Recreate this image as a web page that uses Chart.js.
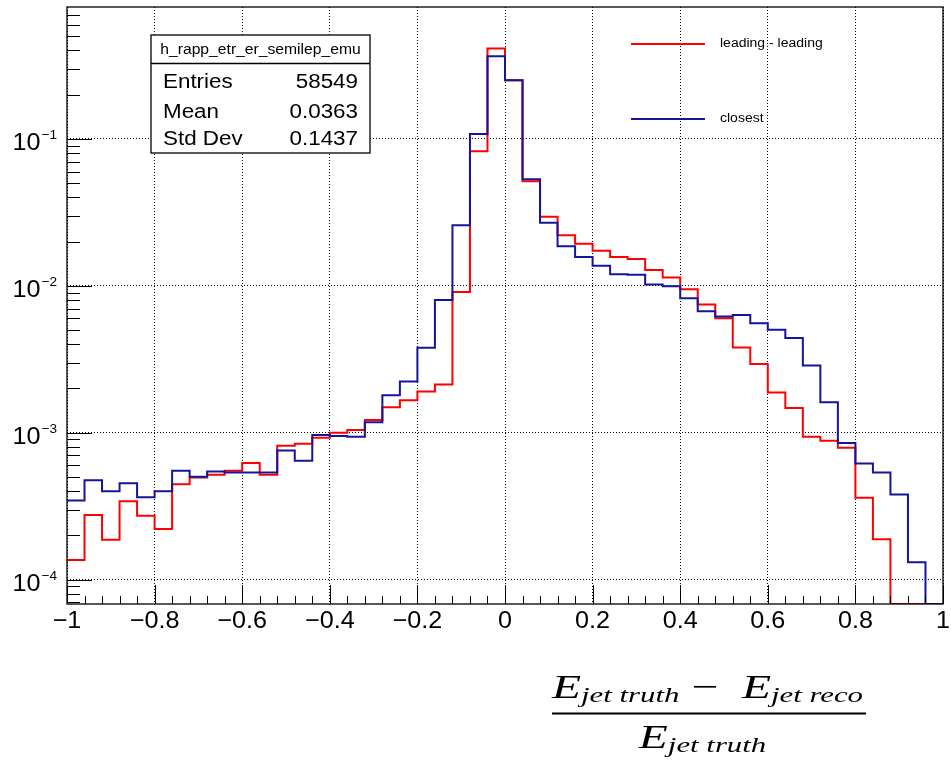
<!DOCTYPE html>
<html>
<head>
<meta charset="utf-8">
<script src="https://cdn.jsdelivr.net/npm/chart.js@4.4.1/dist/chart.umd.min.js"></script>
<style>
  html, body { margin: 0; padding: 0; background: #fff; }
  canvas { display: block; }
</style>
</head>
<body>
<canvas id="histo" width="951" height="764"></canvas>
<script>
// binning of the response histogram
const xLow = -1, xHigh = 1;

// normalised bin contents, 50 bins of width 0.04
const leadingCounts = [
  1.36e-4, 2.75e-4, 1.87e-4, 3.42e-4, 2.72e-4, 2.21e-4, 4.46e-4, 4.96e-4, 5.18e-4, 5.5e-4,
  6.23e-4, 5.18e-4, 8.15e-4, 8.41e-4, 9.23e-4, 1.0e-3, 1.045e-3, 1.22e-3, 1.49e-3, 1.66e-3,
  1.91e-3, 2.13e-3, 9.06e-3, 0.0825, 0.412, 0.251, 0.0515, 0.0295, 0.0221, 0.0193,
  0.0173, 0.0157, 0.01525, 0.01282, 0.0114, 9.47e-3, 7.47e-3, 6.01e-3, 3.80e-3, 2.94e-3,
  1.88e-3, 1.47e-3, 9.4e-4, 8.83e-4, 7.9e-4, 3.61e-4, 1.88e-4, 0, 0, 0
];
const closestCounts = [
  3.46e-4, 4.75e-4, 3.99e-4, 4.52e-4, 3.64e-4, 3.99e-4, 5.51e-4, 5.02e-4, 5.45e-4, 5.35e-4,
  5.35e-4, 5.35e-4, 7.57e-4, 6.44e-4, 9.64e-4, 9.51e-4, 9.4e-4, 1.18e-3, 1.80e-3, 2.23e-3,
  3.78e-3, 8.0e-3, 0.0258, 0.108, 0.366, 0.251, 0.0531, 0.0269, 0.0186, 0.0157,
  0.0137, 0.0120, 0.0119, 0.0102, 9.93e-3, 8.24e-3, 6.71e-3, 6.19e-3, 6.32e-3, 5.55e-3,
  5.02e-3, 4.41e-3, 2.87e-3, 1.61e-3, 8.51e-4, 6.17e-4, 5.35e-4, 3.80e-4, 1.31e-4, 0
];

const xTicks = [-1, -0.8, -0.6, -0.4, -0.2, 0, 0.2, 0.4, 0.6, 0.8, 1];
const yTicks = [1e-4, 1e-3, 1e-2, 1e-1];
const yMin = 6.82e-5, yMax = 0.791;

const seriesNames = ['leading - leading', 'closest'];
const seriesColors = ['#ff0000', '#14149c'];

const statsTitle = 'h_rapp_etr_er_semilep_emu';
const statsRows = [['Entries', '58549'], ['Mean', '0.0363'], ['Std Dev', '0.1437']];

// left bin edges plus the closing edge, drawn as a step line;
// empty bins sit on the bottom of the log axis like in ROOT
function steps(counts) {
  const w = (xHigh - xLow) / counts.length;
  const pts = counts.map((c, i) => ({ x: xLow + i * w, y: c > 0 ? c : yMin }));
  pts.push({ x: xHigh, y: pts[pts.length - 1].y });
  return pts;
}

const SANS = '"Liberation Sans", Arial, sans-serif';
const SERIF = '"Liberation Serif", "Times New Roman", serif';
const SX = 1.12; // ROOT text comes out slightly wide

function text(ctx, str, x, y, align, font, sx) {
  ctx.save();
  ctx.font = font;
  ctx.translate(x, y);
  ctx.scale(sx, 1);
  ctx.textAlign = align;
  ctx.fillText(str, 0, 0);
  ctx.restore();
}

function fmt(v) {
  if (v === 0) return '0';
  return (v < 0 ? '\u2212' : '') + String(Math.abs(v));
}

const rootStyle = {
  id: 'rootStyle',
  afterDatasetsDraw(chart) {
    const { ctx, chartArea: a } = chart;
    const xs = chart.scales.x, ys = chart.scales.y;
    ctx.save();
    ctx.strokeStyle = '#000';
    ctx.lineWidth = 1;
    ctx.beginPath();
    // x ticks: major each 0.2, minor each 0.04
    for (let i = 0; i <= 50; i++) {
      const px = Math.round(xs.getPixelForValue(xLow + i * 0.04)) + 0.5;
      const len = i % 5 === 0 ? 19 : 8;
      ctx.moveTo(px, a.bottom);
      ctx.lineTo(px, a.bottom - len);
    }
    // y ticks on the log axis
    for (let e = -5; e <= 0; e++) {
      for (let k = 1; k <= 9; k++) {
        const v = k * Math.pow(10, e);
        if (v < yMin || v > yMax) continue;
        const py = Math.round(ys.getPixelForValue(v)) + 0.5;
        ctx.moveTo(a.left, py);
        ctx.lineTo(a.left + (k === 1 ? 25 : 13), py);
      }
    }
    ctx.stroke();
    ctx.lineWidth = 1.3;
    ctx.strokeRect(a.left, a.top, a.right - a.left, a.bottom - a.top);
    ctx.restore();
  },
  afterDraw(chart) {
    const { ctx } = chart;
    const xs = chart.scales.x, ys = chart.scales.y;
    ctx.save();
    ctx.fillStyle = '#000';
    ctx.textBaseline = 'alphabetic';

    // x tick labels
    xTicks.forEach(v => text(ctx, fmt(v), xs.getPixelForValue(v), 628, 'center', '24px ' + SANS, 1.05));

    // y tick labels as powers of ten
    yTicks.forEach(v => {
      const gy = ys.getPixelForValue(v);
      const ex = '\u2212' + Math.abs(Math.round(Math.log10(v)));
      ctx.font = '13px ' + SANS;
      const w = ctx.measureText(ex).width * 1.05;
      text(ctx, ex, 57, gy + 0.5, 'right', '13px ' + SANS, 1.05);
      text(ctx, '10', 57 - w - 1, gy + 11.5, 'right', '24px ' + SANS, 1.05);
    });

    // statistics box
    const bx = 151, by = 35, bw = 219, bh = 118;
    ctx.fillStyle = '#fff';
    ctx.fillRect(bx, by, bw, bh);
    ctx.strokeStyle = '#000';
    ctx.lineWidth = 1.3;
    ctx.strokeRect(bx, by, bw, bh);
    ctx.beginPath();
    ctx.moveTo(bx, 63.5);
    ctx.lineTo(bx + bw, 63.5);
    ctx.stroke();
    ctx.fillStyle = '#000';
    text(ctx, statsTitle, bx + bw / 2, 54, 'center', '14px ' + SANS, SX);
    const rowBase = [87.5, 117.5, 144.5];
    statsRows.forEach((r, i) => {
      text(ctx, r[0], 163, rowBase[i], 'left', '20px ' + SANS, SX);
      text(ctx, r[1], 358, rowBase[i], 'right', '20px ' + SANS, SX);
    });

    // legend
    const legY = [44, 119];
    seriesNames.forEach((name, i) => {
      ctx.strokeStyle = seriesColors[i];
      ctx.lineWidth = 2;
      ctx.beginPath();
      ctx.moveTo(631, legY[i]);
      ctx.lineTo(705, legY[i]);
      ctx.stroke();
      ctx.fillStyle = '#000';
      ctx.textBaseline = 'middle';
      text(ctx, name, 720, legY[i], 'left', '12.5px ' + SANS, SX);
    });
    ctx.textBaseline = 'alphabetic';

    // x axis title: (E_jet truth - E_jet reco) / E_jet truth
    const big = 'italic 34px ' + SERIF, small = 'italic 22px ' + SERIF, up = '34px ' + SERIF;
    const num = [[big, 'E', 0], [small, 'jet truth', 4], [up, ' \u2212  ', 0], [big, 'E', 0], [small, 'jet reco', 4]];
    const den = [[big, 'E', 0], [small, 'jet truth', 4]];
    const width = parts => parts.reduce((s, p) => { ctx.font = p[0]; return s + ctx.measureText(p[1]).width; }, 0);
    const sx = (863 - 552) / width(num);
    const draw = (parts, x0, base) => {
      let x = x0;
      parts.forEach(p => {
        ctx.font = p[0];
        const w = ctx.measureText(p[1]).width * sx;
        text(ctx, p[1], x, base + p[2], 'left', p[0], sx);
        x += w;
      });
    };
    draw(num, 552, 698);
    draw(den, 702.5 - width(den) * sx / 2, 748);
    ctx.fillRect(552, 712.5, 314, 2);
    ctx.restore();
  }
};

new Chart(document.getElementById('histo'), {
  type: 'line',
  data: {
    datasets: [
      {
        label: seriesNames[0], data: steps(leadingCounts), borderColor: seriesColors[0],
        borderWidth: 2, stepped: true, pointRadius: 0, fill: false, order: 2
      },
      {
        label: seriesNames[1], data: steps(closestCounts), borderColor: seriesColors[1],
        borderWidth: 2, stepped: true, pointRadius: 0, fill: false, order: 1
      }
    ]
  },
  options: {
    responsive: false,
    animation: false,
    layout: { padding: { left: 67, right: 8, top: 7, bottom: 160 } },
    plugins: { legend: { display: false }, tooltip: { enabled: false } },
    scales: {
      x: {
        type: 'linear', min: xLow, max: xHigh, bounds: 'data',
        afterBuildTicks: s => { s.ticks = xTicks.map(v => ({ value: v })); },
        ticks: { display: false },
        grid: { color: '#000', lineWidth: 1, drawTicks: false },
        border: { display: false, dash: [1, 2] }
      },
      y: {
        type: 'logarithmic', min: yMin, max: yMax, bounds: 'data',
        afterBuildTicks: s => { s.ticks = yTicks.map(v => ({ value: v })); },
        ticks: { display: false },
        grid: { color: '#000', lineWidth: 1, drawTicks: false },
        border: { display: false, dash: [1, 2] }
      }
    }
  },
  plugins: [rootStyle]
});
</script>
</body>
</html>
